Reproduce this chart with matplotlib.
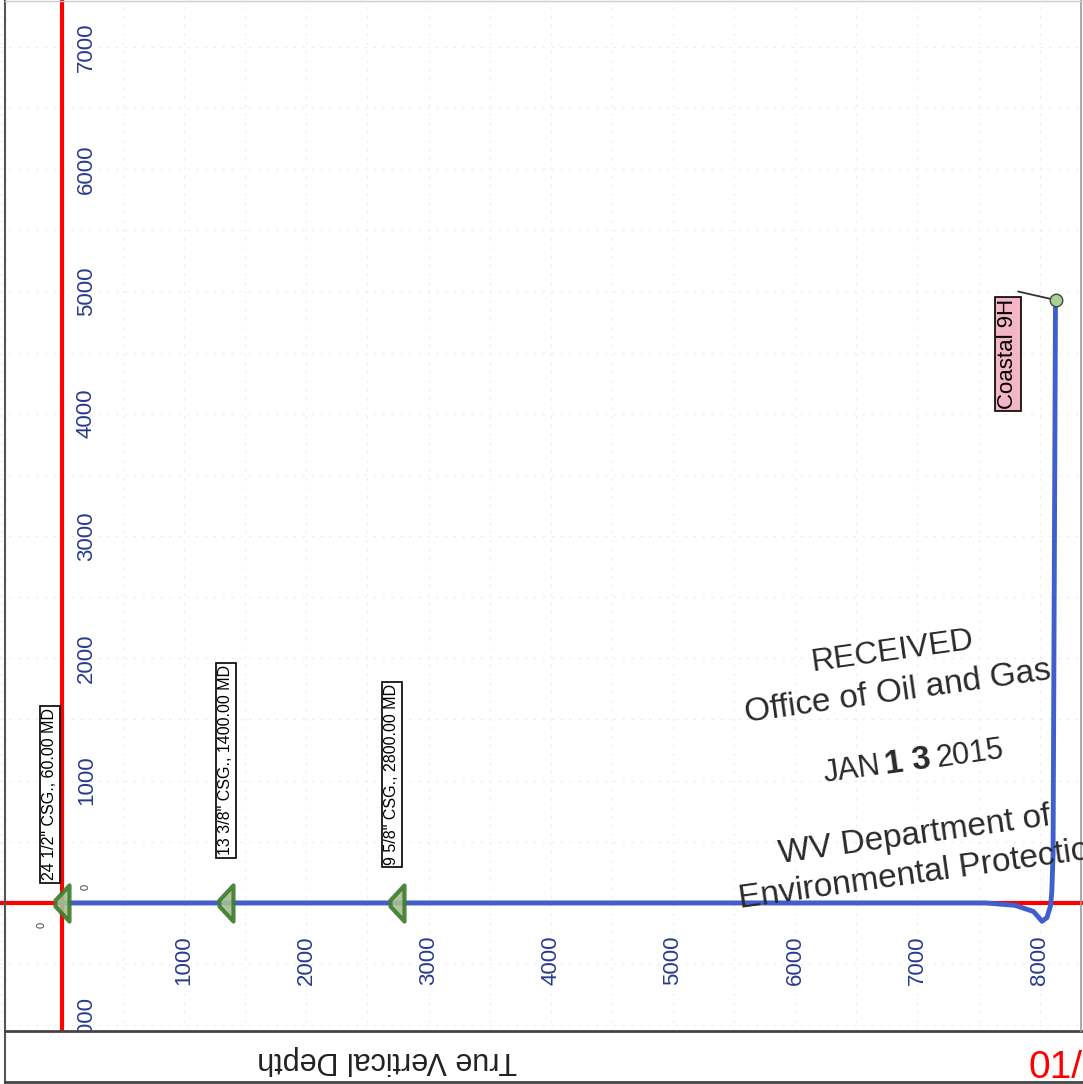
import numpy as np
import matplotlib
matplotlib.use('Agg')
from matplotlib import pyplot as plt
from matplotlib.path import Path
from matplotlib.lines import Line2D

plt.rcParams['font.family'] = ['Liberation Sans', 'DejaVu Sans']

# Well path (rotated section view): along-hole axis vs. section axis
path_x = [0, 7560, 7800, 7950, 8020, 8060, 8090, 8100, 8110, 8130]
path_y = [0, 0, -20, -70, -150, -120, -20, 100, 400, 4930]
well_name = 'Coastal 9H'

# Casing points
casing_md = [60, 1400, 2800]
casing_labels = ['24 1/2" CSG., 60.00 MD', '13 3/8" CSG., 1400.00 MD',
                 '9 5/8" CSG., 2800.00 MD']

# Tick labels
x_ticks = [1000, 2000, 3000, 4000, 5000, 6000, 7000, 8000]
y_ticks = [-1000, 1000, 2000, 3000, 4000, 5000, 6000, 7000]

W, H = 1083, 1084
fig = plt.figure(figsize=(W / 100, H / 100), dpi=100)
ax = fig.add_axes([0, 53 / H, 1, 1031 / H])
ax.set_xlim(-507, 8355)
ax.set_ylim(-1047, 7383)
for s in ax.spines.values():
    s.set_visible(False)

# faint grid
ax.set_xticks(np.arange(-500, 8500, 500))
ax.set_yticks(np.arange(-1000, 7500, 500))
ax.tick_params(length=0, labelbottom=False, labelleft=False)
ax.grid(True, color='#ececec', lw=0.8, ls=(0, (2, 6)))

tick_col = '#283a8c'
for v in x_ticks:
    ax.text(v, -466, str(v), rotation=90, ha='center', va='center',
            fontsize=16, color=tick_col)
for v in y_ticks:
    ax.text(200, v, str(v), rotation=90, ha='center', va='center',
            fontsize=16, color=tick_col, clip_on=True)
ax.text(-165, -180, '0', rotation=90, ha='center', va='center', fontsize=8, color='#444')
ax.text(190, 130, '0', rotation=90, ha='center', va='center', fontsize=8, color='#444')

# origin lines
ax.axvline(0, color='#ff0000', lw=3)
ax.axhline(0, color='#ff0000', lw=3)

# well path
ax.plot(path_x, path_y, color='#3f5fcf', lw=3.5, solid_capstyle='round', zorder=3)
ax.plot(path_x[-1], path_y[-1], 'o', ms=9, mfc='#a9d18e', mec='#444444', mew=1, zorder=5)

# casing shoes
shoe = Path([(0, 18), (-14, 3), (-14, -3), (0, -18), (0, 18)],
            [Path.MOVETO, Path.LINETO, Path.LINETO, Path.LINETO, Path.CLOSEPOLY])
ax.plot(casing_md, [0] * len(casing_md), ls='none', marker=shoe, ms=26,
        mfc='#a7bf93', mec='#3e7b2c', mew=3, alpha=0.9, zorder=4)

lbl_dx = [-160, -60, -100]
lbl_y = [185, 390, 310]
for md, txt, dx, ly in zip(casing_md, casing_labels, lbl_dx, lbl_y):
    ax.text(md + dx, ly, txt, rotation=90, ha='center', va='bottom', fontsize=11.5,
            bbox=dict(boxstyle='square,pad=0.15', fc='white', ec='black', lw=1.2), zorder=6)

# well label
lx, ly = 7741, 4489
ax.text(lx, ly, well_name, rotation=90, ha='center', va='center', fontsize=16,
        bbox=dict(boxstyle='square,pad=0.1', fc='#f2b6c6', ec='black', lw=1.2), zorder=6)
ax.plot([lx + 85, path_x[-1]], [ly + 510, path_y[-1]], color='#333333', lw=1.3, zorder=4)

# received stamp
def ftext(x, y, s, **kw):
    fig.text(x / W, 1 - y / H, s, rotation=8, rotation_mode='anchor',
             color='#2a2a2a', **kw)

ftext(892, 652, 'RECEIVED', fontsize=23, ha='center', va='center')
ftext(898, 692, 'Office of Oil and Gas', fontsize=24, ha='center', va='center')
ftext(852, 770, 'JAN', fontsize=22, ha='center', va='center')
ftext(908, 762, '1 3', fontsize=24, ha='center', va='center', weight='bold')
ftext(970, 754, '2015', fontsize=22, ha='center', va='center')
ftext(915, 836, 'WV Department of', fontsize=24, ha='center', va='center')
ftext(740, 908, 'Environmental Protection', fontsize=24, ha='left', va='baseline')

# frame and title block
for xs, ys, c, lw in [([5, 5], [0, H], '#555555', 1.5),
                      ([5, W], [1031, 1031], '#444444', 2),
                      ([5, W], [1082, 1082], '#444444', 2),
                      ([1081, 1081], [0, 1031], '#999999', 1.2),
                      ([5, W], [1, 1], '#cccccc', 1)]:
    fig.add_artist(Line2D([x / W for x in xs], [1 - y / H for y in ys], color=c, lw=lw))

fig.text(387 / W, 1 - 1060 / H, 'True Vertical Depth', rotation=180, ha='center',
         va='center', fontsize=22, color='#222222')
fig.text(1028 / W, 1 - 1078 / H, '01/', ha='left', va='baseline', fontsize=28,
         color='#ff0000')

fig.savefig('out.png', dpi=100)
